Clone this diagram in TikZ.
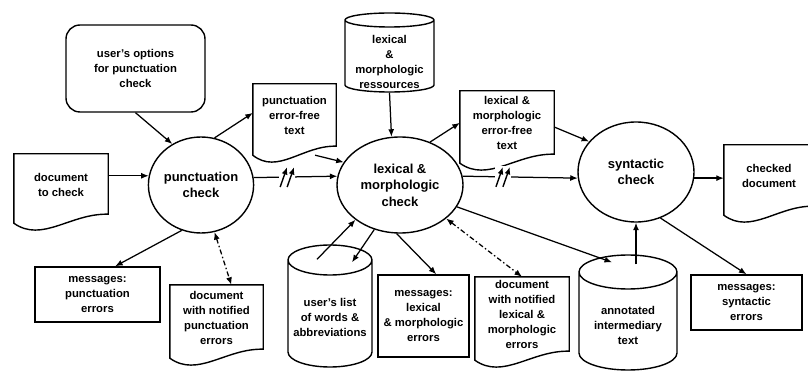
\documentclass[tikz,border=0pt]{standalone}
\usepackage{fontspec}
\setmainfont{Liberation Sans}
\usetikzlibrary{arrows.meta,shapes,calc}
\tikzstyle{every node}=[font=\bfseries\fontsize{11.3}{15}\selectfont,align=center]
\tikzstyle{proc}=[ellipse,draw,line width=1.4pt,inner sep=0pt,font=\bfseries\fontsize{13}{16.5}\selectfont]
\tikzstyle{store}=[cylinder,shape border rotate=90,draw,line width=1.4pt,inner sep=1pt,anchor=shape center]
\tikzstyle{msg}=[rectangle,draw,line width=1.4pt]
\tikzstyle{opt}=[rectangle,draw,line width=1.4pt,rounded corners=14pt]
\tikzstyle{paper}=[rectangle,inner sep=2pt,text depth=8pt]
\tikzstyle{flow}=[draw,line width=1.25pt,->]
\tikzstyle{link}=[draw,line width=1.25pt,dash pattern=on 5pt off 2.5pt on 1.5pt off 2.5pt,<->]
\tikzstyle{brk}=[fill=white,inner sep=0pt,minimum width=16pt,minimum height=22pt,
  path picture={
    \draw[line width=1.4pt] ($(path picture bounding box.south west)+(1pt,1pt)$) -- ($(path picture bounding box.north)+(0pt,-1pt)$);
    \draw[line width=1.4pt] ($(path picture bounding box.south)+(0pt,1pt)$) -- ($(path picture bounding box.north east)+(-1pt,-1pt)$);}]

\begin{document}
\begin{tikzpicture}[x=1pt,y=-1pt,>={Latex[length=7.5pt,width=6pt]}]
    \useasboundingbox (0,0) rectangle (808,371);
    % the three checks
    \node[proc,minimum width=102pt,minimum height=96pt] (punct) at (201,185) {punctuation\\check};
    \node[proc,minimum width=126pt,minimum height=96pt] (lex) at (400,185) {lexical \&\\morphologic\\check};
    \node[proc,minimum width=116pt,minimum height=100pt] (synt) at (636,172) {syntactic\\check};
    % options and resources
    \node[opt,minimum width=139pt,minimum height=87pt] (opts) at (135.5,68.5) {user's options\\for punctuation\\check};
    \node[store,aspect=7,minimum width=89pt,minimum height=79pt] (lres) at (389.5,52.5) {};
    \node (lresT) at (389.5,62) {lexical\\\&\\morphologic\\ressources};
    \node[store,aspect=15,minimum width=84pt,minimum height=122pt] (ulist) at (330,306) {};
    \node (ulistT) at (330,317) {user's list\\of words \&\\abbreviations};
    \node[store,aspect=17,minimum width=98pt,minimum height=115pt] (annot) at (628,312.5) {};
    \node (annotT) at (628,325) {annotated\\intermediary\\text};
    % documents
    \node[paper,minimum width=94pt,minimum height=69pt] (doc) at (61,188.5) {document\\to check};
    \node[paper,minimum width=83pt,minimum height=71pt] (pfree) at (294.5,119.5) {punctuation\\error-free\\text};
    \node[paper,minimum width=94pt,minimum height=72pt] (lfree) at (507,127) {lexical \&\\morphologic\\error-free\\text};
    \node[paper,minimum width=90pt,minimum height=70pt] (checked) at (769,180) {checked\\document};
    \node[paper,minimum width=93pt,minimum height=73pt] (docP) at (216.5,321.5) {document\\with notified\\punctuation\\errors};
    \node[paper,minimum width=94pt,minimum height=83pt] (docL) at (522,318.5) {document\\with notified\\lexical \&\\morphologic\\errors};
    \foreach \n in {doc,pfree,lfree,checked,docP,docL}
        \draw[line width=1.4pt] (\n.south west) -- (\n.north west) -- (\n.north east) -- ([yshift=9pt]\n.south east)
            .. controls ($(\n.south west)!0.6!(\n.south east)+(0pt,10pt)$) and ($(\n.south west)!0.3!(\n.south east)+(0pt,-20pt)$) .. cycle;
    % messages
    \node[msg,minimum width=125pt,minimum height=55pt] (msgP) at (97.5,294.5) {messages:\\punctuation\\errors};
    \node[msg,minimum width=91pt,minimum height=82pt] (msgL) at (423.5,316) {messages:\\lexical\\\& morphologic\\errors};
    \node[msg,minimum width=111pt,minimum height=55pt] (msgS) at (746.5,302.5) {messages:\\syntactic\\errors};
    % free ends inside the cylinders
    \coordinate (ulin) at ([shift={(-13pt,-15pt)}]ulist.north);
    \coordinate (ulout) at ([shift={(22pt,-18pt)}]ulist.north);
    \coordinate (anin) at ([shift={(-16pt,-8pt)}]annot.north);
    \coordinate (anout) at ([yshift=-10pt]annot.north);
    % connect them
    \path[flow] (opts.south) -- (punct.125);
    \path[flow] (doc.east |- punct.170) -- (punct.170);
    \path[flow] (punct.74) -- (pfree.171);
    \path[flow] (punct.8) -- node[brk,pos=0.4]{} (lex.172);
    \path[flow] (pfree.-60) -- (lex.158);
    \path[flow] (lres.south) -- (lex.100);
    \path[flow] (lex.55) -- (lfree.175);
    \path[flow] (lex.8) -- node[brk,pos=0.35]{} (synt.186);
    \path[flow] (lfree.east) -- (synt.147);
    \path[flow] (synt.-6) -- (synt.-6 -| checked.west);
    \path[flow] (punct.247) -- (msgP.58);
    \path[link] (punct.286) -- (docP.68);
    \path[flow] (ulin) -- (lex.218);
    \path[flow] (lex.240) -- (ulout);
    \path[flow] (lex.266) -- (msgL.73);
    \path[link] (lex.-36) -- (docL.north);
    \path[flow] (lex.-21) -- (anin);
    \path[flow] (anout -| synt.south) -- (synt.south);
    \path[flow] (synt.-62) -- (msgS.north);
\end{tikzpicture}
\end{document}
